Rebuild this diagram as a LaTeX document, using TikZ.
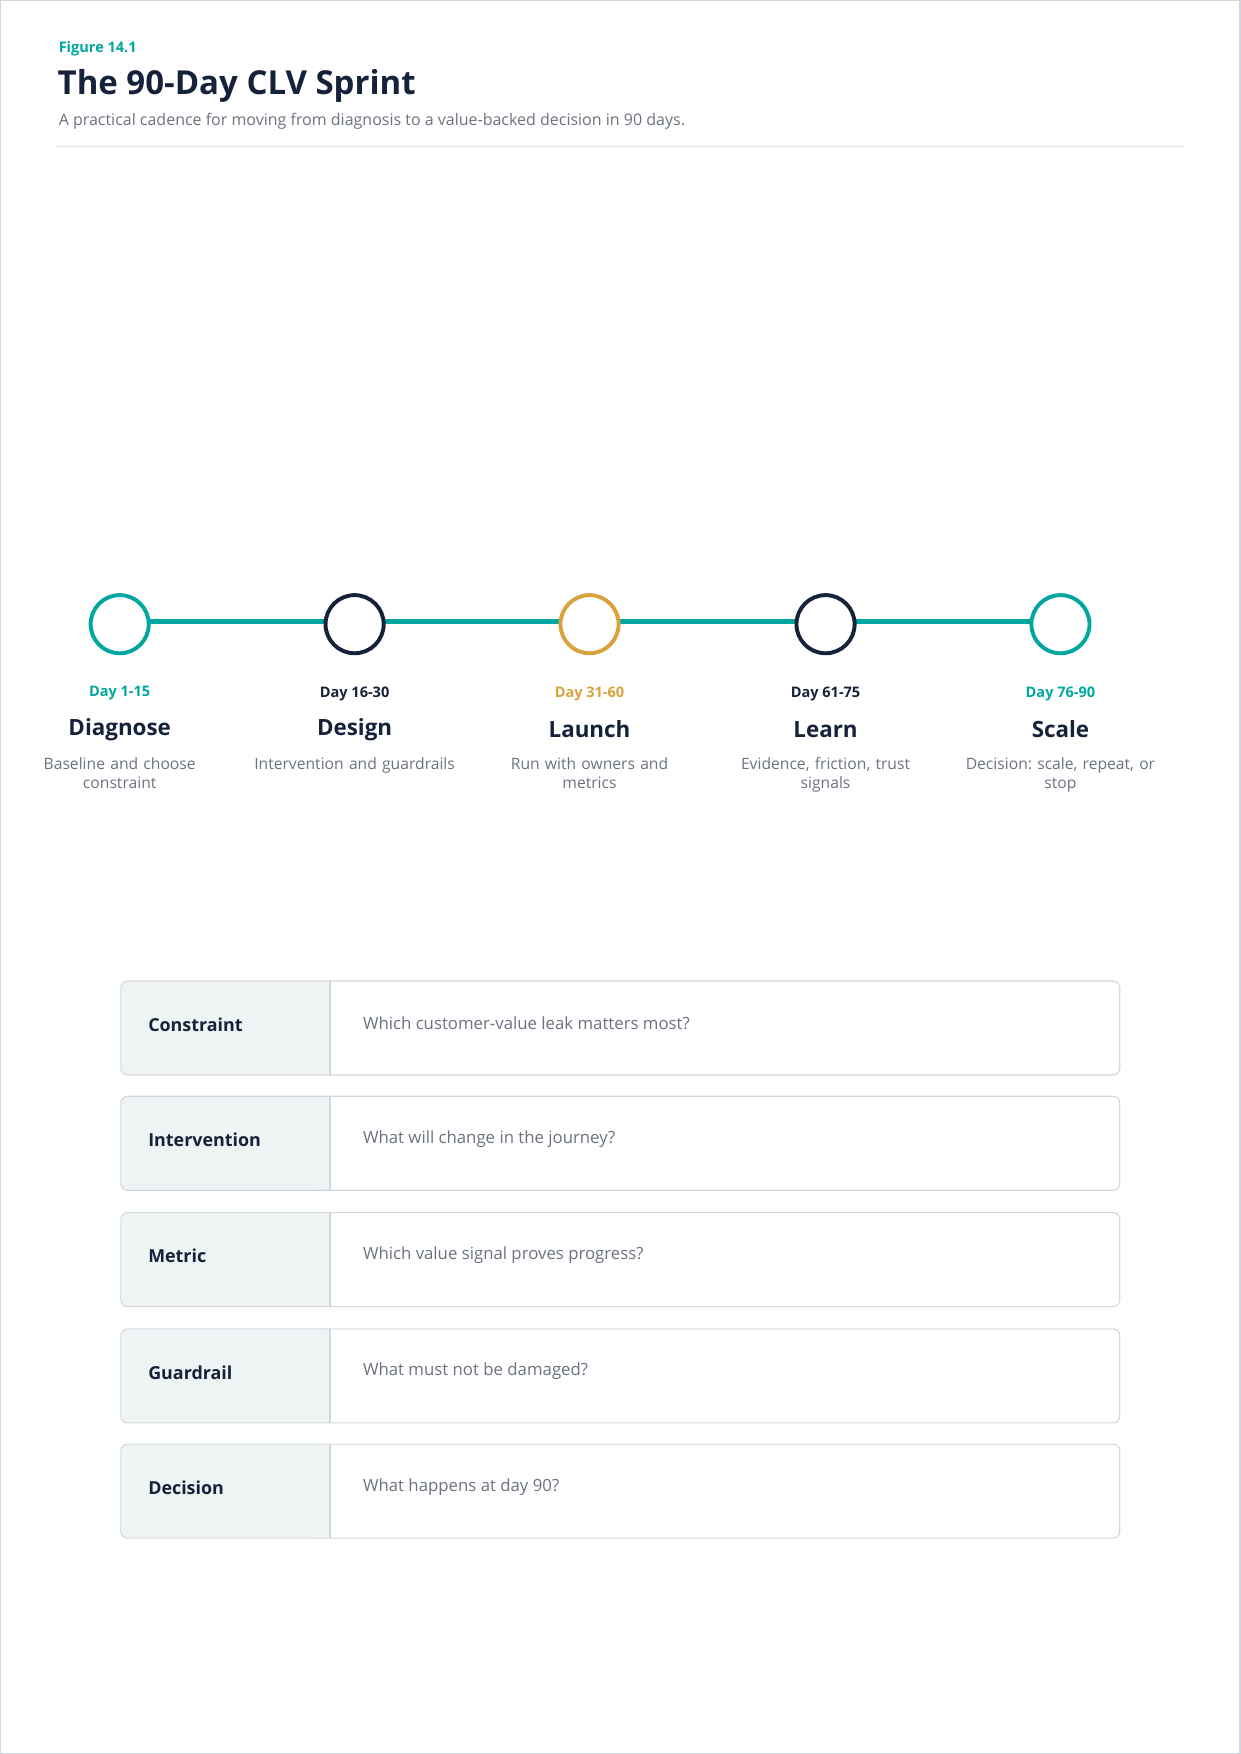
\documentclass[tikz,border=0pt]{standalone}
\usepackage{fontspec}
\setmainfont{Open Sans}
\usetikzlibrary{backgrounds}
\frenchspacing
\definecolor{teal}{HTML}{00A6A0}
\definecolor{navy}{HTML}{16213A}
\definecolor{gold}{HTML}{D9A23A}
\definecolor{grayt}{HTML}{6B7280}
\definecolor{bord}{HTML}{D3D7DD}
\definecolor{cellf}{HTML}{EEF3F3}
\begin{document}
\begin{tikzpicture}[x=1pt,y=-1pt,
  phase/.style={circle,draw,line width=3.5pt,minimum size=52pt,inner sep=0pt,fill=white},
  daylbl/.style={font=\fontsize{13}{15}\selectfont\bfseries,anchor=center},
  phname/.style={font=\fontsize{20}{24}\selectfont\bfseries,text=navy},
  phdesc/.style={font=\fontsize{14}{17}\selectfont\frenchspacing,text=grayt,align=center,text width=190pt},
  rowlbl/.style={font=\fontsize{16}{19}\selectfont\bfseries,text=navy,anchor=west},
  rowq/.style={font=\fontsize{15}{18}\selectfont,text=grayt,anchor=west}]
\useasboundingbox (0,0) rectangle (1109,1568);
\draw[bord,line width=1pt] (0.5,0.5) rectangle (1108.5,1567.5);
\node[anchor=west,text=teal,font=\fontsize{13}{15}\selectfont\bfseries] (fig) at (49,44) {Figure 14.1};
\node[anchor=west,text=navy,font=\fontsize{29.5}{34}\selectfont\bfseries] (title) at (48,77) {The 90-Day CLV Sprint};
\node[anchor=west,text=grayt,font=\fontsize{14.3}{17}\selectfont] (sub) at (49,108) {A practical cadence for moving from diagnosis to a value-backed decision in 90 days.};
\draw[cellf,line width=2pt] (50,131) -- (1058,131);
% timeline
\foreach \i/\x/\c/\d/\n/\t in {1/107/teal/Day 1-15/Diagnose/Baseline and choose\\constraint,
  2/317/navy/Day 16-30/Design/Intervention and guardrails,
  3/527/gold/Day 31-60/Launch/Run with owners and\\metrics,
  4/738/navy/Day 61-75/Learn/{Evidence, friction, trust}\\signals,
  5/948/teal/Day 76-90/Scale/{Decision: scale, repeat, or}\\stop}{
  \node[phase,draw=\c] (p\i) at (\x,558) {};
  \node[daylbl,text=\c] (d\i) at (\x,620) {\d};
  \node[phname] (n\i) at (\x,652) {\n};
  \node[phdesc,anchor=north] (t\i) at (\x,674) {\t};
}
\begin{scope}[on background layer]
\foreach \a/\b in {1/2,2/3,3/4,4/5}
  \draw[teal,line width=4.5pt] ([yshift=2pt]p\a.center) -- ([yshift=2pt]p\b.center);
\end{scope}
% table
\foreach \i/\y/\l/\q in {1/877/Constraint/Which customer-value leak matters most?,
  2/980/Intervention/What will change in the journey?,
  3/1084/Metric/Which value signal proves progress?,
  4/1188/Guardrail/What must not be damaged?,
  5/1291/Decision/What happens at day 90?}{
  \fill[white,rounded corners=6pt] (108,\y) rectangle (1001,\y+84);
  \fill[cellf,rounded corners=6pt] (108.5,\y+0.5) rectangle (295,\y+83.5);
  \fill[cellf] (280,\y+0.5) rectangle (295,\y+83.5);
  \draw[bord,line width=1pt,rounded corners=6pt] (108,\y) rectangle (1001,\y+84);
  \draw[bord,line width=1pt] (295,\y) -- (295,\y+84);
  \node[rowlbl] (l\i) at (129,\y+39) {\l};
  \node[rowq] (q\i) at (321,\y+38) {\q};
}
\end{tikzpicture}
\end{document}
